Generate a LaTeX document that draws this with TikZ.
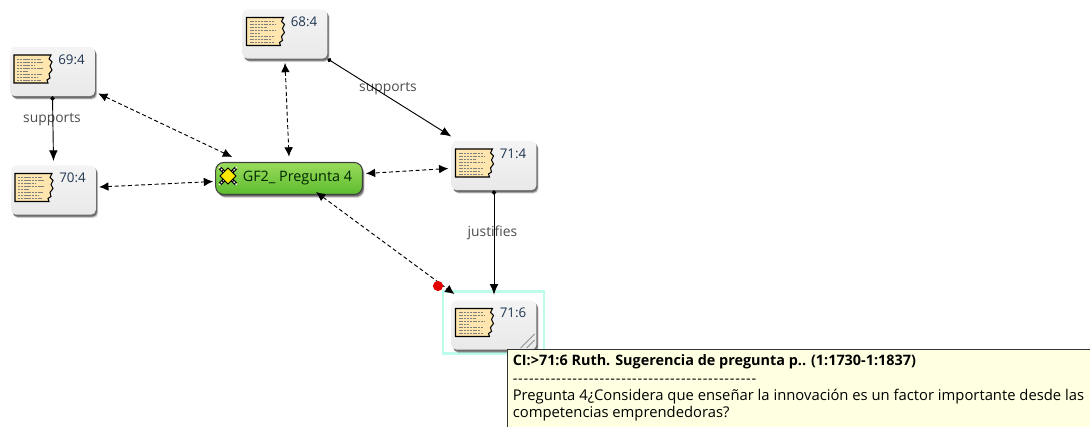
\documentclass[tikz,border=0pt]{standalone}
\usepackage{fontspec}
\setmainfont{Open Sans}
\newfontfamily\dashfont[LetterSpace=5.5]{Open Sans}
\usetikzlibrary{shadows,arrows.meta,calc}
\definecolor{notefill}{HTML}{FFE6AE}
\definecolor{boxtop}{HTML}{F4F4F4}
\definecolor{boxbot}{HTML}{E9E9E9}
\definecolor{codeinktext}{HTML}{1F3550}
\definecolor{seltone}{HTML}{BDFBEB}
\definecolor{tipfill}{HTML}{FFFFE1}
\definecolor{greentop}{HTML}{9ADC5C}
\definecolor{greenbot}{HTML}{5CBB2E}
\tikzset{
  x=0.75pt,y=-0.75pt,
  softshadow/.style={
    general shadow={shadow xshift=1.8pt,shadow yshift=-2.6pt,fill=black,opacity=.12},
    general shadow={shadow xshift=1.3pt,shadow yshift=-2.0pt,fill=black,opacity=.25},
    general shadow={shadow xshift=.9pt,shadow yshift=-1.4pt,fill=black,opacity=.35}},
  docbox/.style={rounded corners=3.6pt,top color=boxtop,bottom color=boxbot,minimum width=63.5pt,minimum height=37pt,inner sep=0pt,softshadow},
  codebox/.style={rounded corners=6pt,draw=black!75,line width=.8pt,top color=greentop,bottom color=greenbot,minimum width=110pt,minimum height=24pt,inner sep=0pt,softshadow},
  dashlink/.style={densely dashed,line width=.7pt,{Latex[length=7pt,width=6.5pt]}-{Latex[length=7pt,width=6.5pt]}},
  solidlink/.style={line width=.7pt,{Circle[length=3.2pt]}-{Latex[length=8pt,width=6.5pt]}},
  linktext/.style={font=\fontsize{10.4}{12}\selectfont,text=black!70,inner sep=0pt},
  idtext/.style={font=\fontsize{10}{12}\selectfont,text=codeinktext,inner sep=0pt},
  tiptext/.style={font=\fontsize{11.1}{13}\selectfont,text=black,inner sep=0pt,anchor=west},
  notelines/.style={line width=.4pt,black!50,dash pattern=on 1.6pt off .5pt},
}
\newcommand{\noteicon}[2]{%
  \begin{scope}[shift={(#1,#2)}]
    \draw[line width=.8pt,black,fill=notefill]
      (0,0) -- (37,0) -- (35,4) -- (38,7) -- (36,11) -- (38,15) -- (35,19) -- (36,23) -- (33,25) -- (34,28) -- (0,28) -- cycle;
    \foreach \yy/\xx in {4/27,7/29,10/20,13/29,16/14,19/28,22/24,25/27}
      \draw[notelines] (3,\yy) -- (\xx,\yy);
  \end{scope}}
\newcommand{\docnode}[4]{%
  \node[docbox] (#1) at (#2,#3) {};
  \noteicon{#2-38.5}{#3-16.5}
  \node[idtext] (#1id) at (#2+19,#3-12) {#4};}
\begin{document}
\begin{tikzpicture}
\useasboundingbox (0,0) rectangle (1090,427);
\clip (0,0) rectangle (1090,427);
\node[draw=seltone,line width=1.6pt,minimum width=75.5pt,minimum height=46.5pt,inner sep=0pt] (sel) at (493.5,322.5) {};
\docnode{nb}{52.5}{71.5}{69:4}
\docnode{nc}{53.5}{190}{70:4}
\docnode{na}{285}{34}{68:4}
\docnode{nd}{494}{165.5}{71:4}
\docnode{ne}{494}{325}{71:6}
\draw[black!50,line width=.5pt] ($(ne.south east)+(-16,-2)$) -- ($(ne.south east)+(-2,-16)$);
\draw[black!50,line width=.5pt] ($(ne.south east)+(-10,-2)$) -- ($(ne.south east)+(-2,-10)$);
\node[codebox] (gf) at (289,178.5) {};
\begin{scope}[shift={(228,176)}]
  \draw[black,line width=2.6pt] (-8,-8) -- (8,8) (-8,8) -- (8,-8);
  \draw[white,line width=1pt,dash pattern=on 1.2pt off 1pt] (-9,-9) -- (9,9) (-9,9) -- (9,-9);
  \draw[black,fill=yellow!90!orange,line width=.6pt] (0,-8) -- (8,0) -- (0,8) -- (-8,0) -- cycle;
\end{scope}
\node[font=\fontsize{10.8}{13}\selectfont,text=black!85!green,inner sep=0pt,anchor=west] (gftext) at (242.5,178) {GF2\_ Pregunta 4};
\node[linktext] (lsa) at (388,89) {supports};
\node[linktext] (lsb) at (52,119.5) {supports};
\node[linktext] (lj) at (492.5,233) {justifies};
\draw[dashlink] ([shift={(3,-3)}]nb.south east) -- ([shift={(17,-5)}]gf.north west);
\draw[dashlink] ([yshift=-3pt]na.south) -- ([yshift=4pt]gf.north);
\draw[dashlink] ([shift={(3,-3)}]nc.east) -- ([shift={(-2,3)}]gf.west);
\draw[dashlink] ([shift={(-3,3)}]nd.west) -- ([shift={(3,-5)}]gf.east);
\draw[dashlink] ([shift={(27,-3)}]gf.south) -- ([shift={(3,-6)}]ne.north west);
\draw[solidlink] (na.south east) -- ([yshift=3pt]nd.north west);
\draw[solidlink] (nb.south) -- ([yshift=3pt]nc.north);
\draw[solidlink] (nd.south) -- ([yshift=4pt]ne.north);
\fill[red!90!black] (438,286) circle (3.8pt);
\node[draw=black!80,line width=.8pt,fill=tipfill,minimum width=480pt,minimum height=70pt,anchor=north west,inner sep=0pt] (tip) at (507,349) {};
\node[tiptext,font=\fontsize{10.8}{13}\selectfont\bfseries] (t1) at (512.5,361.5) {CI:>71:6 Ruth. Sugerencia de pregunta p.. (1:1730-1:1837)};
\node[tiptext,font=\fontsize{10.8}{13}\dashfont] (t2) at (512.5,381) {---------------------------------------------};
\node[tiptext] (t3) at (512.5,396.5) {Pregunta 4¿Considera que enseñar la innovación es un factor importante desde las};
\node[tiptext] (t4) at (512.5,413.5) {competencias emprendedoras?};
\end{tikzpicture}
\end{document}
